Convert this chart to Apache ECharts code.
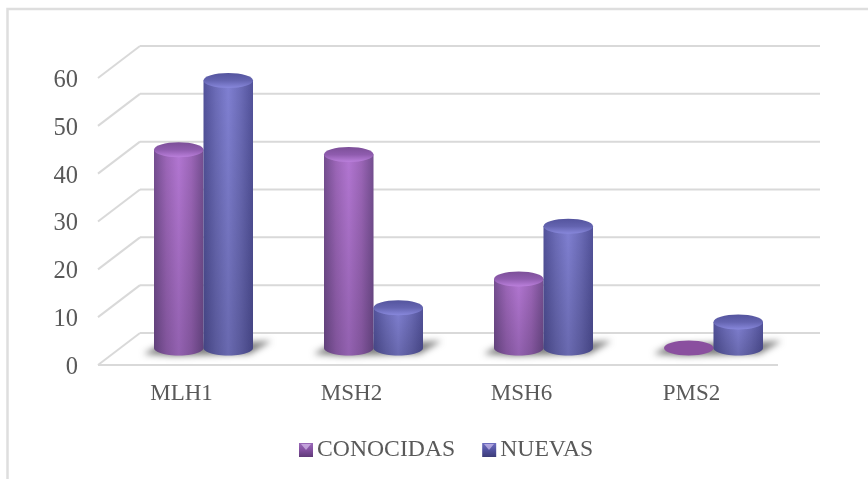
<!DOCTYPE html>
<html><head><meta charset="utf-8">
<style>html,body{margin:0;padding:0;background:#fff}#c{width:868px;height:479px}</style>
<script src="https://cdn.jsdelivr.net/npm/echarts@6/dist/echarts.min.js"></script>
</head><body><div id="c"></div>
<script>
const categories = ['MLH1', 'MSH2', 'MSH6', 'PMS2'];
const conocidas = [43, 42, 16, 0];
const nuevas = [57.5, 10, 27, 7];
const yTicks = [0, 10, 20, 30, 40, 50, 60];

const FONT = '"Liberation Serif", serif';
const TXT = '#595959', GRID = '#d9d9d9';
const DX = 42, DY = 32, MX = 20.5, MY = 17, BW = 49.5, RY = 7.5, OFF = 3000;

function lg(x0, y0, x1, y1, stops) {
  return new echarts.graphic.LinearGradient(x0, y0, x1, y1, stops.map((c, i) => ({ offset: i / (stops.length - 1), color: c })));
}
const PAL = {
  CONOCIDAS: { body: ['#744e90', '#9c66b8', '#b276d2', '#9c66b8', '#744e90'], top: ['#7c4f98', '#8f5cae', '#bb80dc'], flat: '#8a4f9f' },
  NUEVAS: { body: ['#52529a', '#6c6cb8', '#8080d2', '#6c6cb8', '#52529a'], top: ['#54549e', '#6464b0', '#8888dc'], flat: '#5c5ca8' }
};

function cylinder(side) {
  return function (params, api) {
    const name = params.seriesName, p = PAL[name];
    const c = api.coord([api.value(0), 0]);
    const vy = api.coord([api.value(0), api.value(1)])[1];
    const cx = c[0] + MX + side * BW / 2, base = c[1] - MY;
    const H = c[1] - vy;
    const rx = BW / 2;
    if (H === 0) {
      return { type: 'ellipse', shape: { cx: cx, cy: base, rx: rx, ry: RY }, style: { fill: p.flat } };
    }
    const top = base - Math.max(0, H - RY);
    const pts = [[cx - rx, top], [cx + rx, top]];
    for (let i = 0; i <= 24; i++) {
      const a = Math.PI * i / 24;
      pts.push([cx + rx * Math.cos(a), base + RY * Math.sin(a)]);
    }
    return {
      type: 'group',
      children: [
        { type: 'polygon', shape: { points: pts }, style: { fill: lg(0, 0, 1, 0, p.body) } },
        { type: 'polygon', shape: { points: pts }, style: { fill: lg(0, 0, 0, 1, ['rgba(0,0,0,0)', 'rgba(0,0,20,0.18)']) } },
        { type: 'ellipse', shape: { cx: cx, cy: top, rx: rx, ry: RY }, style: { fill: lg(0, 0, 0, 1, p.top) } }
      ]
    };
  };
}

function walls(params, api) {
  const v = api.value(0);
  const p0 = api.coord([0, v]);
  const band = api.size([1, 0])[0];
  const l = p0[0] - band / 2, y = p0[1];
  const r = l + band * categories.length;
  const st = { stroke: GRID, lineWidth: 2, fill: null };
  const kids = [
    { type: 'line', shape: { x1: l, y1: y, x2: l + DX, y2: y - DY }, style: st },
    { type: 'line', shape: { x1: l + DX, y1: y - DY, x2: r + DX, y2: y - DY }, style: st }
  ];
  if (v === 0) kids.push({ type: 'line', shape: { x1: l, y1: y, x2: r, y2: y }, style: st });
  return { type: 'group', children: kids };
}

function shadows(params, api) {
  const c = api.coord([api.value(0), 0]);
  const x = c[0] + MX, b = c[1] - MY;
  const pts = [[x - 60, b + 6], [x - 42, b - 4], [x + 48, b - 6], [x + 68, b - 7], [x + 46, b + 6], [x - 30, b + 8]];
  return {
    type: 'polygon',
    shape: { points: pts.map(p => [p[0] - OFF, p[1]]) },
    style: { fill: '#000', shadowBlur: 6, shadowOffsetX: OFF, shadowColor: 'rgba(105,105,105,0.85)' }
  };
}

function legendTriangles(x) {
  return { type: 'polygon', silent: true, z: 20, shape: { points: [[x + 2, 444], [x + 12, 444], [x + 7, 450]] }, style: { fill: 'rgba(235,215,255,0.55)' } };
}

const chart = echarts.init(document.getElementById('c'), null, { renderer: 'canvas' });
chart.setOption({
  animation: false,
  backgroundColor: '#fff',
  textStyle: { fontFamily: FONT },
  grid: { left: 98, top: 78, width: 680, height: 287 },
  xAxis: {
    type: 'category', data: categories,
    axisLine: { show: false }, axisTick: { show: false }, splitLine: { show: false },
    axisLabel: { color: TXT, fontFamily: FONT, fontSize: 23, margin: 17, padding: [0, 3, 0, 0] }
  },
  yAxis: {
    type: 'value', min: 0, max: 60, interval: 10,
    axisLine: { show: false }, axisTick: { show: false }, splitLine: { show: false },
    axisLabel: { color: TXT, fontFamily: FONT, fontSize: 24.5, margin: 20, verticalAlign: 'top', padding: [-10, 0, 0, 0] }
  },
  legend: {
    left: 294, top: 433, itemWidth: 14, itemHeight: 14, itemGap: 27, icon: 'rect',
    textStyle: { color: TXT, fontFamily: FONT, fontSize: 23.7, padding: [0, 0, 0, -1] },
    data: [
      { name: 'CONOCIDAS', itemStyle: { color: lg(0, 0, 0, 1, ['#9a6ab8', '#8350a0', '#5f3a78']) } },
      { name: 'NUEVAS', itemStyle: { color: lg(0, 0, 0, 1, ['#6f6fc0', '#5252a0', '#3c3c78']) } }
    ]
  },
  graphic: [{
    type: 'polyline', silent: true, z: -1,
    shape: { points: [[7.5, 479], [7.5, 9], [868, 9]] },
    style: { stroke: '#dedede', lineWidth: 2.5, fill: null }
  }, legendTriangles(299), legendTriangles(482)],
  series: [
    { type: 'custom', name: 'walls', z: 1, silent: true, renderItem: walls, data: yTicks.map(v => [v]), encode: { y: 0 } },
    { type: 'custom', name: 'shadow', z: 2, silent: true, renderItem: shadows, data: categories.map((_, i) => [i, 0]), encode: { x: 0, y: 1 } },
    { type: 'custom', name: 'CONOCIDAS', z: 3, renderItem: cylinder(-1), itemStyle: { color: '#9a62b8' }, data: conocidas.map((v, i) => [i, v]), encode: { x: 0, y: 1 } },
    { type: 'custom', name: 'NUEVAS', z: 4, renderItem: cylinder(1), itemStyle: { color: '#6a6ab8' }, data: nuevas.map((v, i) => [i, v]), encode: { x: 0, y: 1 } }
  ]
});
</script></body></html>
